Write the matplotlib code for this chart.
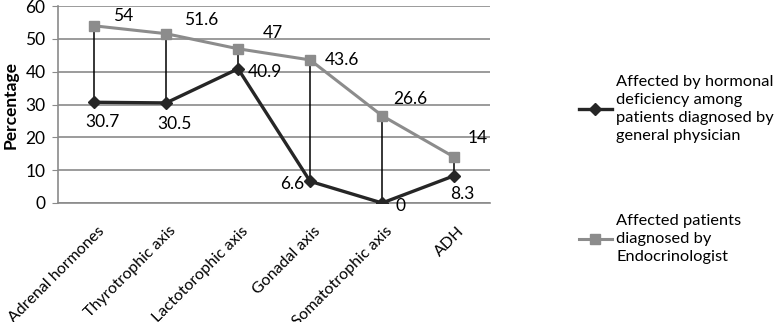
import matplotlib
matplotlib.use("Agg")
import matplotlib.pyplot as plt
import matplotlib.transforms as mtransforms

categories = ["Adrenal hormones", "Thyrotrophic axis", "Lactotorophic axis",
              "Gonadal axis", "Somatotrophic axis", "ADH"]
general_physician = [30.7, 30.5, 40.9, 6.6, 0, 8.3]
endocrinologist = [54, 51.6, 47, 43.6, 26.6, 14]
gp_label = "Affected by hormonal\ndeficiency among\npatients diagnosed by\ngeneral physician"
endo_label = "Affected patients\ndiagnosed by\nEndocrinologist"

# label offsets in points (placement only)
gp_offsets = [(6, -14), (6, -15), (19, -2), (-13, -2), (13, -2), (6, -13)]
endo_offsets = [(21, 7), (25, 10), (25, 11), (23, 0), (20, 12), (17, 14)]

plt.rcParams['font.family'] = ['Lato', 'DejaVu Sans']
fs = 12.5

fig = plt.figure(figsize=(7.78, 3.22), dpi=100)
ax = fig.add_axes([0.0746, 0.3696, 0.5554, 0.6114])

x = list(range(len(categories)))
grid_c = "#8a8a8a"

ax.vlines(x, general_physician, endocrinologist, color="black", lw=1.1, zorder=2)
endo_line, = ax.plot(x, endocrinologist, color="#8c8c8c", lw=2.2, marker="s", ms=7.5,
                     mfc="#8c8c8c", mec="#8c8c8c", zorder=3)
gp_line, = ax.plot(x, general_physician, color="#262626", lw=2.4, marker="D", ms=6,
                   mfc="#262626", mec="#262626", zorder=4)

for i in x:
    ax.annotate(f"{general_physician[i]:g}", (i, general_physician[i]),
                xytext=gp_offsets[i], textcoords="offset points",
                ha="center", va="center", fontsize=fs, color="black")
    ax.annotate(f"{endocrinologist[i]:g}", (i, endocrinologist[i]),
                xytext=endo_offsets[i], textcoords="offset points",
                ha="center", va="center", fontsize=fs, color="black")

ax.set_xlim(-0.5, len(categories) - 0.5)
ax.set_ylim(0, 60)
ax.set_yticks(range(0, 61, 10))
ax.yaxis.grid(True, color=grid_c, lw=1.2)
ax.set_axisbelow(True)
for s in ["top", "right"]:
    ax.spines[s].set_visible(False)
ax.spines["left"].set_color(grid_c)
ax.spines["bottom"].set_color(grid_c)
ax.spines["left"].set_linewidth(1.2)
ax.spines["bottom"].set_linewidth(1.2)
ax.tick_params(axis="y", length=4, color=grid_c, labelsize=fs, pad=5)
ax.tick_params(axis="x", length=0, labelsize=11.5, pad=15)
ax.set_xticks(x)
ax.set_xticklabels(categories, rotation=45, ha="right", rotation_mode="anchor")
shift = mtransforms.ScaledTranslation(3 / 100, 0, fig.dpi_scale_trans)
for lab in ax.get_xticklabels():
    lab.set_transform(lab.get_transform() + shift)
ax.set_ylabel("Percentage", fontsize=fs, fontweight="bold", labelpad=5)

# one legend per entry so each can sit where the original has it
for handle, label, ycen in [(gp_line, gp_label, 0.6615), (endo_line, endo_label, 0.258)]:
    leg = fig.legend([handle], [label], loc="center left",
                     bbox_to_anchor=(0.725, ycen), frameon=False, fontsize=11.8,
                     handlelength=2.0, handletextpad=0.3)
    for t in leg.get_texts():
        t.set_linespacing(1.36)

fig.savefig("out.png", dpi=100)
